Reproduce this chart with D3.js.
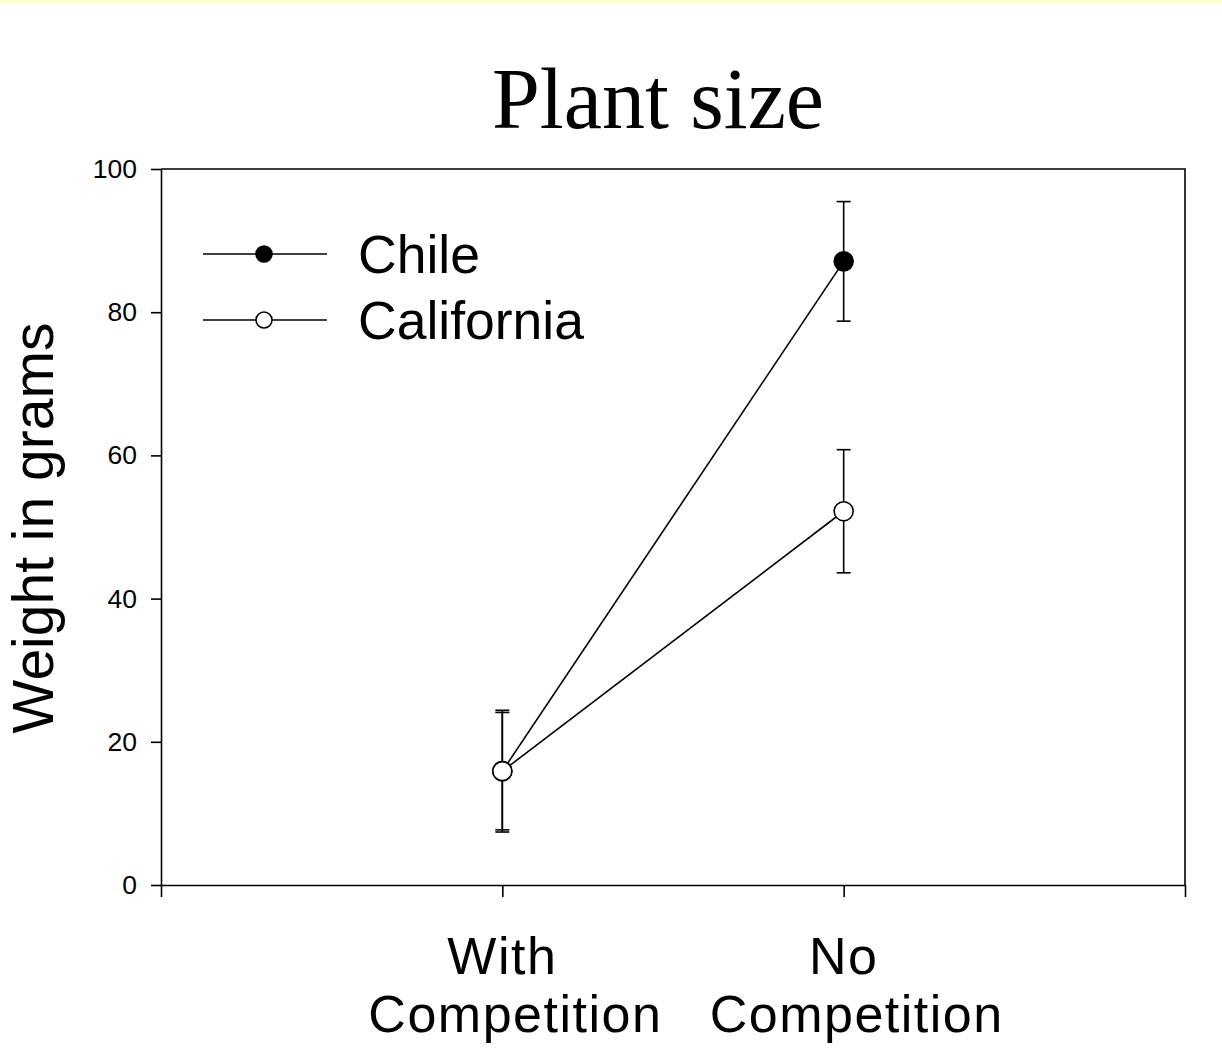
<!DOCTYPE html>
<html>
<head>
<meta charset="utf-8">
<script src="https://cdn.jsdelivr.net/npm/d3@7"></script>
<style>
  html, body { margin: 0; padding: 0; background: #ffffff; }
  svg { display: block; }
</style>
</head>
<body>
<script>
// Treatments along the x axis (each label is drawn on two lines)
const categories = ["With Competition", "No Competition"];
const categoryLines = [["With", "Competition"], ["No", "Competition"]];

// Mean plant weight (g) and error half-widths per treatment
const chileMean = [15.9, 87.1];
const chileErr = [8.5, 8.35];
const californiaMean = [15.9, 52.2];
const californiaErr = [8.2, 8.6];

const yTicks = [0, 20, 40, 60, 80, 100];
const seriesNames = ["Chile", "California"];

const W = 1222, H = 1051;
const svg = d3.select("body").append("svg").attr("width", W).attr("height", H);

// thin yellow strip along the top edge
svg.append("rect").attr("x", 0).attr("y", 0).attr("width", W).attr("height", 3.5).attr("fill", "#ffffcc");

const plotLeft = 161, plotRight = 1185, plotTop = 169, plotBottom = 885;
// x positions: category i sits at slot i+1 in a 0..3 frame
const x = d3.scaleLinear().domain([0, 3]).range([plotLeft, plotRight]);
const y = d3.scaleLinear().domain([0, 100]).range([plotBottom, plotTop]);

const sans = "'Liberation Sans', Arial, Helvetica, sans-serif";
const ink = "#000";
const sw = 1.6;

// title
svg.append("text")
  .attr("x", 658).attr("y", 128)
  .attr("text-anchor", "middle")
  .style("font-family", "'Liberation Serif', 'Times New Roman', serif")
  .style("font-size", "86px")
  .attr("fill", ink)
  .text("Plant size");

// y axis
const yAxis = svg.append("g")
  .attr("transform", `translate(${plotLeft},0)`)
  .call(d3.axisLeft(y).tickValues(yTicks).tickSize(10).tickPadding(14).tickSizeOuter(0));
yAxis.selectAll("text").style("font-family", sans).style("font-size", "26.5px").attr("fill", ink);
yAxis.selectAll("line, path").attr("stroke", ink).attr("stroke-width", sw);

// x axis (tick marks only; labels are drawn below)
const xAxis = svg.append("g")
  .attr("transform", `translate(0,${plotBottom})`)
  .call(d3.axisBottom(x).tickValues([0, 1, 2, 3]).tickSize(12).tickFormat("").tickSizeOuter(0));
xAxis.selectAll("line, path").attr("stroke", ink).attr("stroke-width", sw);

// frame: top and right edges
svg.append("path")
  .attr("d", `M${plotLeft},${plotTop}H${plotRight}V${plotBottom}`)
  .attr("fill", "none").attr("stroke", ink).attr("stroke-width", sw);

// category labels, one text per line (second line sits a little to the right)
categoryLines.forEach((lines, i) => {
  lines.forEach((ln, j) => {
    svg.append("text")
      .attr("x", x(i + 1) + (j === 1 ? 13 : 0))
      .attr("y", 974 + j * 58)
      .attr("text-anchor", "middle")
      .style("font-family", sans)
      .style("font-size", "52px")
      .style("letter-spacing", "1.5px")
      .attr("fill", ink)
      .text(ln);
  });
});

// y axis title
svg.append("text")
  .attr("transform", `translate(53,528) rotate(-90)`)
  .attr("text-anchor", "middle")
  .style("font-family", sans)
  .style("font-size", "57px")
  .attr("fill", ink)
  .text("Weight in grams");

const series = [
  { name: seriesNames[0], mean: chileMean, err: chileErr, fill: "#000" },
  { name: seriesNames[1], mean: californiaMean, err: californiaErr, fill: "#fff" }
];

const line = d3.line().x((d, i) => x(i + 1)).y(d => y(d));

// connecting lines
series.forEach(s => {
  svg.append("path").datum(s.mean).attr("d", line)
    .attr("fill", "none").attr("stroke", ink).attr("stroke-width", sw);
});

// error bars
const capHalf = 7;
series.forEach(s => {
  const g = svg.append("g").attr("stroke", ink).attr("stroke-width", sw);
  s.mean.forEach((m, i) => {
    const cx = x(i + 1), y1 = y(m + s.err[i]), y0 = y(m - s.err[i]);
    g.append("line").attr("x1", cx).attr("x2", cx).attr("y1", y1).attr("y2", y0);
    g.append("line").attr("x1", cx - capHalf).attr("x2", cx + capHalf).attr("y1", y1).attr("y2", y1);
    g.append("line").attr("x1", cx - capHalf).attr("x2", cx + capHalf).attr("y1", y0).attr("y2", y0);
  });
});

// markers
series.forEach(s => {
  svg.append("g").selectAll("circle").data(s.mean).join("circle")
    .attr("cx", (d, i) => x(i + 1)).attr("cy", d => y(d)).attr("r", 9.5)
    .attr("fill", s.fill).attr("stroke", ink).attr("stroke-width", sw);
});

// legend
const legend = svg.append("g");
series.forEach((s, i) => {
  const ly = 254 + i * 66;
  legend.append("line").attr("x1", 203).attr("x2", 327).attr("y1", ly).attr("y2", ly)
    .attr("stroke", ink).attr("stroke-width", sw);
  legend.append("circle").attr("cx", 264).attr("cy", ly).attr("r", 8)
    .attr("fill", s.fill).attr("stroke", ink).attr("stroke-width", sw);
  legend.append("text").attr("x", 358).attr("y", ly + 19)
    .style("font-family", sans).style("font-size", "53.5px").attr("fill", ink)
    .text(s.name);
});
</script>
</body>
</html>
